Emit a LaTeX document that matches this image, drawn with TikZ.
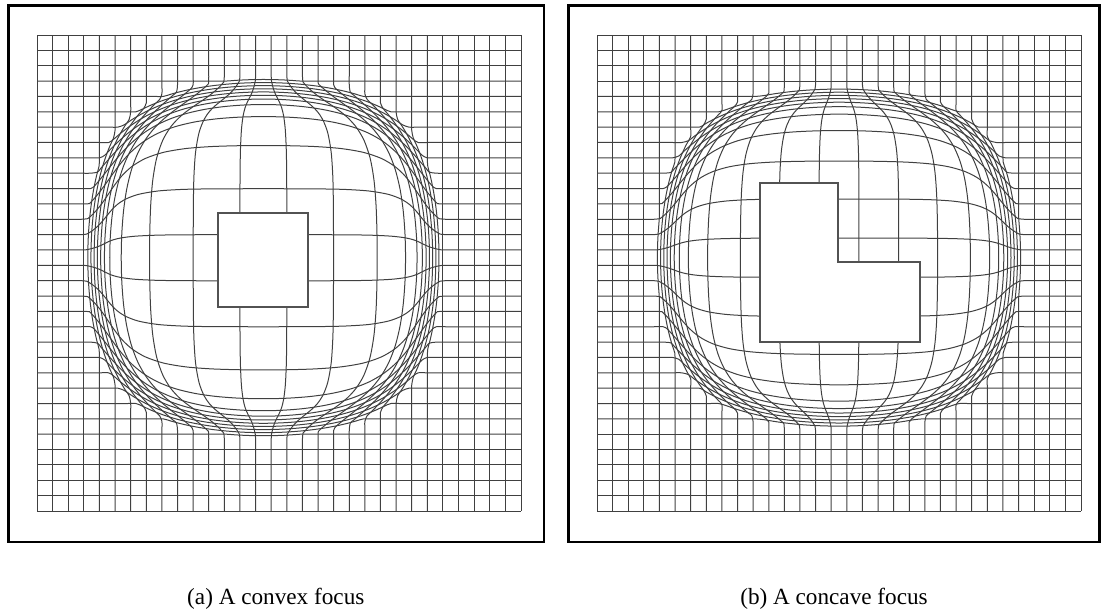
\documentclass[tikz,border=0pt]{standalone}
\usepackage{fontspec}
\setmainfont{Liberation Serif}
% lens parameters (set per panel): centre, scale lengths, alpha, beta, half-extent of the lens
\def\lensN{40}
% #1,#2 = start (original), #3,#4 = end (original); fills \lenspts with the distorted points
\newcommand\lenscurve[4]{%
  \gdef\lenspts{}%
  \foreach \k in {0,...,\lensN}{%
    \pgfmathsetmacro\lpx{#1+(#3-#1)*\k/\lensN}%
    \pgfmathsetmacro\lpy{#2+(#4-#2)*\k/\lensN}%
    \pgfmathsetmacro\lwa{((\lpx-\lcx)/\lLx)^2}%
    \pgfmathsetmacro\lwb{((\lpy-\lcy)/\lLy)^2}%
    \pgfmathsetmacro\lw{min(0.5*(\lwa+\lwb)+0.5*sqrt(\lwa*\lwa+\lwb*\lwb),20)}%
    \pgfmathsetmacro\lsv{max(\la+\lb/((1+\lw^3)^(1/6)),1)}%
    \pgfmathsetmacro\lqx{\lcx+\lsv*(\lpx-\lcx)}%
    \pgfmathsetmacro\lqy{\lcy+\lsv*(\lpy-\lcy)}%
    \xdef\lenspts{\lenspts (\lqx,\lqy)}%
  }%
}
% vertical grid line at X (#1) from #2 to #3
\newcommand\lensvline[3]{%
  \pgfmathsetmacro\ldd{abs(#1-\lcx)}%
  \ifdim\ldd pt<\lRx pt
    \pgfmathsetmacro\lya{\lcy-\lRy}\pgfmathsetmacro\lyb{\lcy+\lRy}%
    \lenscurve{#1}{\lya}{#1}{\lyb}%
    \edef\lensdraw{\noexpand\draw[gridline] (#1,#2) -- plot[smooth] coordinates {\lenspts} -- (#1,#3);}\lensdraw
  \else
    \draw[gridline] (#1,#2) -- (#1,#3);
  \fi
}
% horizontal grid line at Y (#1) from #2 to #3
\newcommand\lenshline[3]{%
  \pgfmathsetmacro\ldd{abs(#1-\lcy)}%
  \ifdim\ldd pt<\lRy pt
    \pgfmathsetmacro\lxa{\lcx-\lRx}\pgfmathsetmacro\lxb{\lcx+\lRx}%
    \lenscurve{\lxa}{#1}{\lxb}{#1}%
    \edef\lensdraw{\noexpand\draw[gridline] (#2,#1) -- plot[smooth] coordinates {\lenspts} -- (#3,#1);}\lensdraw
  \else
    \draw[gridline] (#2,#1) -- (#3,#1);
  \fi
}
\begin{document}
\begin{tikzpicture}[x=1pt,y=-1pt,
  frame/.style={draw=black,line width=2.5pt},
  gridline/.style={draw=black!75,line width=1pt},
  focus/.style={draw=black!68,fill=white,line width=2.8pt,line join=miter},
  caption/.style={font=\fontsize{23.2}{28}\selectfont,anchor=base,inner sep=0pt}
]
\useasboundingbox (0,0) rectangle (1101,614);

% ---------- left panel: convex focus ----------
\def\lcx{263.4}\def\lcy{257.6}\def\lLx{51}\def\lLy{51}\def\la{0.2}\def\lb{2.8}\def\lRx{182}\def\lRy{182}
\foreach \i in {0,...,31}{
  \pgfmathsetmacro\X{37+15.613*\i}
  \lensvline{\X}{35}{511}
  \pgfmathsetmacro\Y{35+15.355*\i}
  \lenshline{\Y}{37}{521}
}
\draw[focus] (218,213) rectangle (308,307);

% ---------- right panel: concave focus ----------
\def\lcx{839}\def\lcy{257.6}\def\lLx{62}\def\lLy{58}\def\la{0.2}\def\lb{2.35}\def\lRx{185}\def\lRy{173}
\foreach \i in {0,...,31}{
  \pgfmathsetmacro\X{597+15.613*\i}
  \lensvline{\X}{35}{511}
  \pgfmathsetmacro\Y{35+15.355*\i}
  \lenshline{\Y}{597}{1081}
}
\draw[focus] (760,183) -- (838,183) -- (838,262) -- (920,262) -- (920,342) -- (760,342) -- cycle;

% ---------- frames ----------
\draw[frame] (8.25,5.25) rectangle (543.75,541.75);
\draw[frame] (568.25,5.25) rectangle (1099.5,541.75);

% ---------- captions ----------
\node[caption] (capA) at (275.8,604) {(a) A convex focus};
\node[caption] (capB) at (834,604) {(b) A concave focus};
\end{tikzpicture}
\end{document}
